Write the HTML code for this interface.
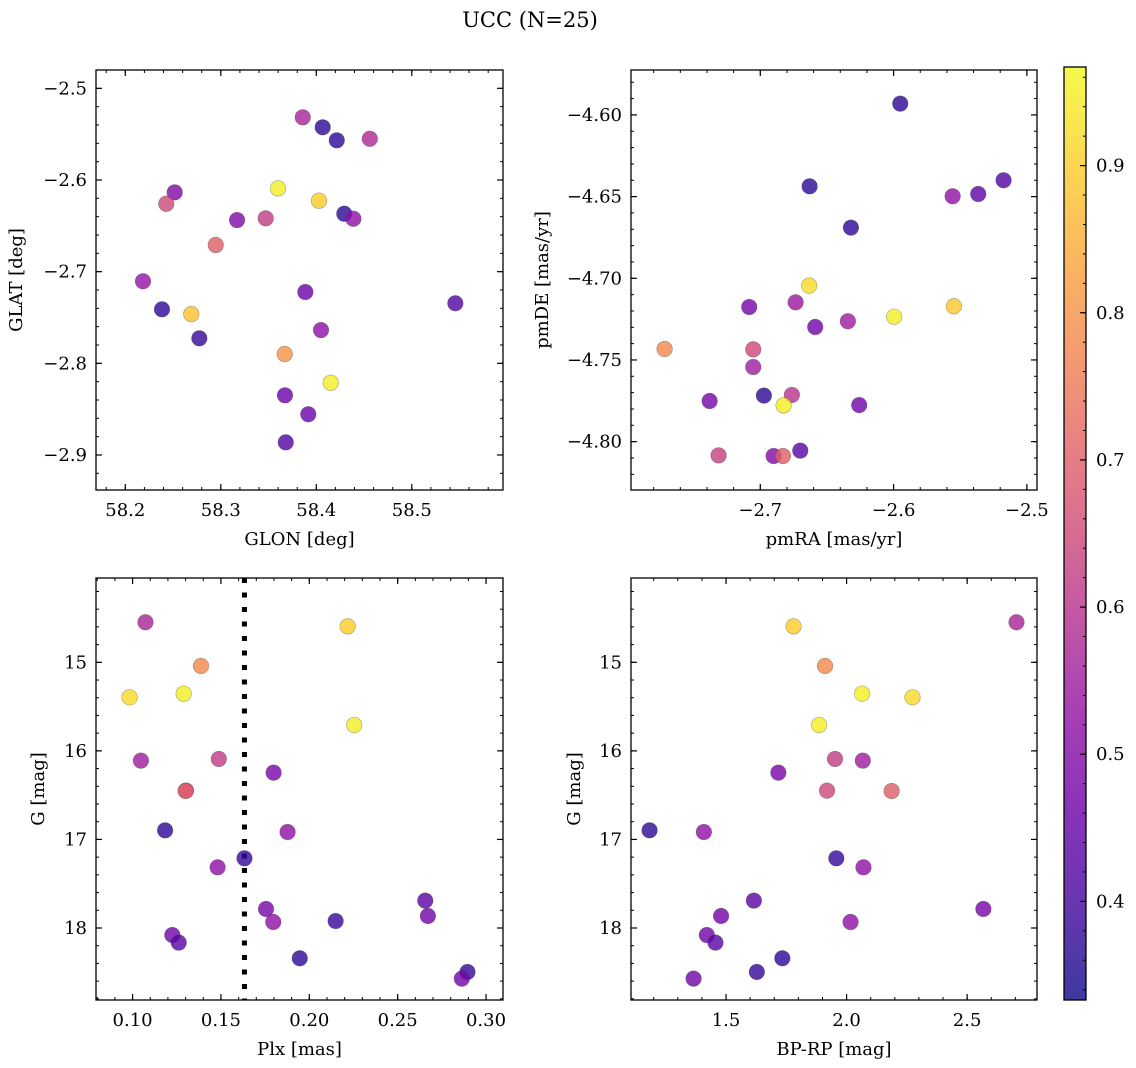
<!DOCTYPE html>
<html><head><meta charset="utf-8">
<style>
html,body{margin:0;padding:0;background:#fff;}
svg{display:block;font-family:"DejaVu Serif","Liberation Serif",serif;}
</style></head>
<body>
<svg id="fig" width="1136" height="1068" viewBox="0 0 1136 1068" xmlns="http://www.w3.org/2000/svg">
<text x="530" y="27" font-size="21" text-anchor="middle" fill="#000">UCC (N=25)</text>
</svg>
<script>
// ---- Panel 1: GLON vs GLAT ----
const p1X = [58.3858,58.4067,58.4214,58.4560,58.2517,58.2429,58.3599,58.4028,58.3170,58.3470,58.4293,58.4388,58.2947,58.2185,58.2384,58.2691,58.2775,58.3885,58.5456,58.4049,58.3669,58.4151,58.3672,58.3916,58.3680];
const p1Y = [-2.5316,-2.5425,-2.5567,-2.5550,-2.6135,-2.6259,-2.6091,-2.6226,-2.6437,-2.6418,-2.6368,-2.6423,-2.6709,-2.7105,-2.7411,-2.7462,-2.7727,-2.7222,-2.7345,-2.7637,-2.7898,-2.8212,-2.8349,-2.8556,-2.8862];
const p1C = [0.57,0.37,0.37,0.58,0.50,0.65,0.95,0.90,0.50,0.62,0.37,0.52,0.70,0.53,0.37,0.88,0.38,0.46,0.42,0.52,0.80,0.95,0.46,0.46,0.42];
const p1XTicks = [58.2,58.3,58.4,58.5];
const p1YTicks = [-2.5,-2.6,-2.7,-2.8,-2.9];
// ---- Panel 2: pmRA vs pmDE ----
const p2X = [-2.595,-2.663,-2.5175,-2.5557,-2.5365,-2.632,-2.6633,-2.7083,-2.6735,-2.6588,-2.6343,-2.5995,-2.5548,-2.7718,-2.7053,-2.7053,-2.738,-2.6973,-2.6763,-2.6825,-2.6258,-2.7313,-2.69,-2.683,-2.67];
const p2Y = [-4.5931,-4.6437,-4.6400,-4.6498,-4.6484,-4.669,-4.7045,-4.7176,-4.7147,-4.7298,-4.7263,-4.7235,-4.7171,-4.7433,-4.7435,-4.7543,-4.7751,-4.7718,-4.7714,-4.7778,-4.7776,-4.8084,-4.8088,-4.8088,-4.8055];
const p2C = [0.37,0.37,0.42,0.52,0.44,0.37,0.92,0.48,0.54,0.47,0.55,0.95,0.89,0.78,0.65,0.55,0.48,0.37,0.60,0.95,0.47,0.63,0.50,0.70,0.43];
const p2XTicks = [-2.7,-2.6,-2.5];
const p2YTicks = [-4.60,-4.65,-4.70,-4.75,-4.80];
// ---- Panel 3: Plx vs G ----
const p3X = [0.1073,0.2217,0.1387,0.0983,0.1289,0.2254,0.1047,0.1488,0.1798,0.1302,0.1300,0.1184,0.1877,0.1633,0.1481,0.2656,0.2671,0.1755,0.1796,0.2149,0.1225,0.1261,0.1946,0.2895,0.2863];
const p3Y = [14.548,14.594,15.041,15.395,15.354,15.708,16.110,16.091,16.246,16.449,16.452,16.897,16.916,17.213,17.315,17.691,17.864,17.785,17.932,17.921,18.079,18.165,18.342,18.496,18.572];
const p3C = [0.57,0.90,0.78,0.92,0.95,0.95,0.55,0.62,0.48,0.63,0.70,0.37,0.52,0.38,0.52,0.43,0.47,0.48,0.52,0.38,0.47,0.43,0.37,0.38,0.47];
const p3XTicks = [0.10,0.15,0.20,0.25,0.30];
const p3YTicks = [15,16,17,18];
const plxCut = [0.1633];
// ---- Panel 4: BP-RP vs G ----
const p4X = [1.780,2.7047,1.9107,2.0646,2.2734,1.886,1.9519,2.0673,1.717,1.919,2.1868,1.1827,1.408,1.9574,2.070,1.6154,1.4794,2.5673,2.0165,1.4203,1.456,1.7335,1.6277,1.3654];
const p4Y = [14.594,14.548,15.041,15.354,15.395,15.708,16.091,16.110,16.246,16.449,16.453,16.897,16.916,17.213,17.315,17.691,17.864,17.785,17.932,18.079,18.165,18.342,18.496,18.572];
const p4C = [0.90,0.57,0.78,0.95,0.92,0.95,0.62,0.55,0.48,0.65,0.70,0.37,0.52,0.38,0.52,0.43,0.47,0.48,0.52,0.47,0.43,0.37,0.38,0.47];
const p4XTicks = [1.5,2.0,2.5];
const p4YTicks = [15,16,17,18];
// ---- Colorbar ----
const cbTicks = [0.4,0.5,0.6,0.7,0.8,0.9];
const cbMin = [0.333];
const cbMax = [0.967];

const NS = "http://www.w3.org/2000/svg";
const svg = document.getElementById('fig');
const plasma = ["#0d0887","#41049d","#6a00a8","#8f0da4","#b12a90","#cc4778","#e16462","#f2844b","#fca636","#fcce25","#f0f921"];
function hex(h){return [parseInt(h.substr(1,2),16),parseInt(h.substr(3,2),16),parseInt(h.substr(5,2),16)];}
function cmap(t){
  t=Math.max(0,Math.min(1,t)); const f=t*10; const i=Math.min(9,Math.floor(f)); const u=f-i;
  const a=hex(plasma[i]), b=hex(plasma[i+1]);
  return "rgb("+a.map((v,k)=>Math.round(v+(b[k]-v)*u)).join(",")+")";
}
function colorOf(v){return cmap((v-cbMin[0])/(cbMax[0]-cbMin[0]));}
function mk(tag, attrs, parent){
  const e=document.createElementNS(NS,tag);
  for(const k in attrs) e.setAttribute(k,attrs[k]);
  (parent||svg).appendChild(e); return e;
}
function fmt(v,d){const s=Math.abs(v).toFixed(d); return (v<0?"\u2212":"")+s;}

function panel(cfg){
  const {L,T,R,B,xmin,xmax,ymin,ymax,inv} = cfg;
  const sx = v => L + (v-xmin)/(xmax-xmin)*(R-L);
  const sy = inv ? (v => T + (v-ymin)/(ymax-ymin)*(B-T)) : (v => B - (v-ymin)/(ymax-ymin)*(B-T));
  const g = mk('g',{});
  
  
  const ax0=Math.min(xmin,xmax), ax1=Math.max(xmin,xmax);
  for(let v=Math.ceil(ax0/cfg.xminor-1e-9)*cfg.xminor; v<=ax1+1e-9; v+=cfg.xminor){
    const x=sx(v);
    mk('line',{x1:x,x2:x,y1:B,y2:B-3,stroke:'#000','stroke-width':1},g);
    mk('line',{x1:x,x2:x,y1:T,y2:T+3,stroke:'#000','stroke-width':1},g);
  }
  for(let v=Math.ceil(ymin/cfg.yminor-1e-9)*cfg.yminor; v<=ymax+1e-9; v+=cfg.yminor){
    const y=sy(v);
    mk('line',{x1:L,x2:L+3,y1:y,y2:y,stroke:'#000','stroke-width':1},g);
    mk('line',{x1:R,x2:R-3,y1:y,y2:y,stroke:'#000','stroke-width':1},g);
  }
  cfg.xt.forEach(v=>{
    const x=sx(v);
    mk('line',{x1:x,x2:x,y1:B,y2:B-6,stroke:'#000','stroke-width':1.2},g);
    mk('line',{x1:x,x2:x,y1:T,y2:T+6,stroke:'#000','stroke-width':1.2},g);
    const t=mk('text',{x:x,y:B+26,'font-size':18,'text-anchor':'middle',fill:'#000'},g);
    
    
    t.textContent=fmt(v,cfg.xd);
  });
  cfg.yt.forEach(v=>{
    const y=sy(v);
    mk('line',{x1:L,x2:L+6,y1:y,y2:y,stroke:'#000','stroke-width':1.2},g);
    mk('line',{x1:R,x2:R-6,y1:y,y2:y,stroke:'#000','stroke-width':1.2},g);
    const t=mk('text',{x:L-9,y:y+6,'font-size':18,'text-anchor':'end',fill:'#000'},g);
    
    
    t.textContent=fmt(v,cfg.yd);
  });
  if(cfg.vline){
    const x=sx(cfg.vline[0]);
    const l=mk('line',{x1:x,x2:x,y1:T,y2:B,stroke:'#000','stroke-width':5,'stroke-dasharray':'5 9.5'},g);
    
    
  }
  cfg.X.forEach((xv,i)=>{
    const c=mk('circle',{cx:sx(xv),cy:sy(cfg.Y[i]),r:7.8,fill:colorOf(cfg.C[i]),'fill-opacity':0.8,stroke:'rgba(60,60,60,0.45)','stroke-width':0.6},g);
    
    
  });
  const f=mk('rect',{x:L,y:T,width:R-L,height:B-T,fill:'none',stroke:'#000','stroke-width':1.3},g);
  
  
  const xl=mk('text',{x:(L+R)/2,y:B+55,'font-size':18,'text-anchor':'middle',fill:'#000'},g);
  
  
  xl.textContent=cfg.xlabel;
  const yl=mk('text',{x:0,y:0,'font-size':18,'text-anchor':'middle',fill:'#000',transform:`translate(${cfg.ylx},${(T+B)/2}) rotate(-90)`},g);
  
  
  yl.textContent=cfg.ylabel;
}

panel({name:'panel-glon-glat',L:96,T:70,R:503,B:490,xmin:58.1693,xmax:58.5955,ymin:-2.9382,ymax:-2.48,
  xminor:0.02,yminor:0.02,xt:p1XTicks,yt:p1YTicks,xd:1,yd:1,X:p1X,Y:p1Y,C:p1C,xlabel:'GLON [deg]',ylabel:'GLAT [deg]',ylx:22});
panel({name:'panel-pmra-pmde',L:631,T:70,R:1037,B:490,xmin:-2.797,xmax:-2.4924,ymin:-4.8296,ymax:-4.5725,
  xminor:0.02,yminor:0.01,xt:p2XTicks,yt:p2YTicks,xd:1,yd:2,X:p2X,Y:p2Y,C:p2C,xlabel:'pmRA [mas/yr]',ylabel:'pmDE [mas/yr]',ylx:548});
panel({name:'panel-plx-g',L:96,T:578,R:503,B:1000,xmin:0.0793,xmax:0.3096,ymin:14.048,ymax:18.813,inv:true,
  xminor:0.01,yminor:0.2,xt:p3XTicks,yt:p3YTicks,xd:2,yd:0,X:p3X,Y:p3Y,C:p3C,xlabel:'Plx [mas]',ylabel:'G [mag]',ylx:44,vline:plxCut});
panel({name:'panel-bprp-g',L:631,T:578,R:1037,B:1000,xmin:1.1058,xmax:2.7898,ymin:14.048,ymax:18.813,inv:true,
  xminor:0.1,yminor:0.2,xt:p4XTicks,yt:p4YTicks,xd:1,yd:0,X:p4X,Y:p4Y,C:p4C,xlabel:'BP-RP [mag]',ylabel:'G [mag]',ylx:580});

(function(){
  const L=1064,R=1086,T=67,B=1000;
  const g=mk('g',{});
  
  
  const defs=mk('defs',{},g);
  const lg=mk('linearGradient',{id:'cbg',x1:0,y1:1,x2:0,y2:0},defs);
  for(let i=0;i<=20;i++){ mk('stop',{offset:(i/20),'stop-color':cmap(i/20),'stop-opacity':0.8},lg); }
  mk('rect',{x:L,y:T,width:R-L,height:B-T,fill:'url(#cbg)'},g);
  const sy=v=>B-(v-cbMin[0])/(cbMax[0]-cbMin[0])*(B-T);
  for(let v=0.34; v<0.967; v+=0.02){ const y=sy(v); mk('line',{x1:R,x2:R-3,y1:y,y2:y,stroke:'#000','stroke-width':1},g); }
  cbTicks.forEach(v=>{
    const y=sy(v);
    mk('line',{x1:R,x2:R-6,y1:y,y2:y,stroke:'#000','stroke-width':1.2},g);
    const t=mk('text',{x:R+10,y:y+6,'font-size':18,fill:'#000'},g);
    
    
    t.textContent=v.toFixed(1);
  });
  mk('rect',{x:L,y:T,width:R-L,height:B-T,fill:'none',stroke:'#000','stroke-width':1.3},g);
})();
</script>
</body></html>
